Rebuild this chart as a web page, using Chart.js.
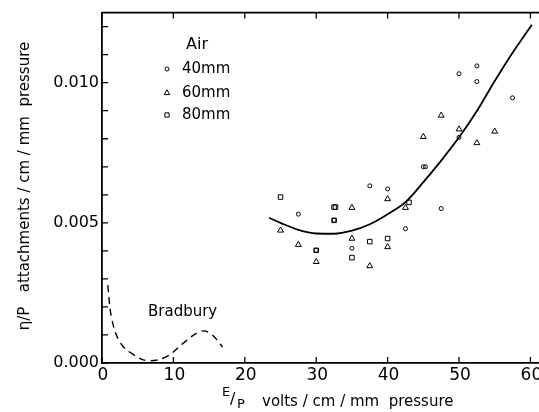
<!DOCTYPE html>
<html>
<head>
<meta charset="utf-8">
<script src="https://cdn.jsdelivr.net/npm/chart.js@4"></script>
<style>
  html, body { margin: 0; padding: 0; background: #fff; }
  #wrap { width: 539px; height: 412px; }
</style>
</head>
<body>
<div id="wrap"><canvas id="attachChart" width="539" height="412"></canvas></div>
<script>
// E/p values and eta/p values
const air40X = [27.5, 37.5, 40, 35, 42.5, 45, 45.3, 47.5, 50, 50, 52.5, 52.5, 57.5, 30, 32.5];
const air40Y = [0.00531, 0.00632, 0.00621, 0.00409, 0.00479, 0.00700, 0.00700, 0.00551, 0.01032, 0.00805, 0.01060, 0.01004, 0.00946, 0.00402, 0.00509];

const air60X = [25, 27.5, 30, 35, 35, 37.5, 40, 40, 42.5, 45, 47.5, 50, 52.5, 55];
const air60Y = [0.00473, 0.00422, 0.00361, 0.00554, 0.00444, 0.00346, 0.00585, 0.00414, 0.00554, 0.00807, 0.00883, 0.00834, 0.00785, 0.00826];

const air80X = [25, 32.5, 32.7, 30, 32.5, 35, 37.5, 40, 43];
const air80Y = [0.00592, 0.00556, 0.00556, 0.00402, 0.00509, 0.00376, 0.00433, 0.00444, 0.00573];

// smooth curve drawn through the data
const fitX = [23.4, 25, 27.5, 30, 32.5, 35, 37.5, 40, 42.5, 45, 47.5, 50, 52.5, 55, 57.5, 60.2];
const fitY = [0.00518, 0.00500, 0.00475, 0.00462, 0.00461, 0.00472, 0.00495, 0.00531, 0.00574, 0.00645, 0.00722, 0.00805, 0.00899, 0.01006, 0.01107, 0.01207];

// Bradbury's curve (dashed)
const bradX = [0.8, 1.4, 2.6, 4.4, 6.5, 9.1, 11.4, 13.7, 15.1, 16.9];
const bradY = [0.00278, 0.00154, 0.00071, 0.00030, 0.00008, 0.00024, 0.00071, 0.00112, 0.00107, 0.00057];

const xTicks = [0, 10, 20, 30, 40, 50, 60];
const yLabels = ['0.000', '0.005', '0.010'];
const legendNames = ['40mm', '60mm', '80mm'];

const FONT = '"DejaVu Sans", sans-serif';

function toPoints(xs, ys) {
  return xs.map((x, i) => ({ x: x, y: ys[i] }));
}

const frameAndText = {
  id: 'frameAndText',
  afterDraw(chart) {
    const ctx = chart.ctx;
    const area = chart.chartArea;
    const xs = chart.scales.x;
    const ys = chart.scales.y;
    ctx.save();
    ctx.strokeStyle = '#000';
    ctx.lineWidth = 1.8;
    // top frame line
    ctx.beginPath();
    ctx.moveTo(area.left, area.top);
    ctx.lineTo(area.right, area.top);
    ctx.stroke();
    // inward ticks
    ctx.lineWidth = 1.3;
    ctx.beginPath();
    xs.ticks.forEach(t => {
      const px = xs.getPixelForValue(t.value);
      ctx.moveTo(px, area.bottom);
      ctx.lineTo(px, area.bottom - 6);
      ctx.moveTo(px, area.top);
      ctx.lineTo(px, area.top + 6);
    });
    ys.ticks.forEach(t => {
      const py = ys.getPixelForValue(t.value);
      ctx.moveTo(area.left, py);
      ctx.lineTo(area.left + 6, py);
    });
    ctx.stroke();

    ctx.fillStyle = '#000';
    ctx.textBaseline = 'middle';

    // x tick labels
    ctx.font = '17px ' + FONT;
    ctx.textAlign = 'center';
    xs.ticks.forEach(t => {
      if (xTicks.includes(t.value)) {
        ctx.fillText(String(t.value), xs.getPixelForValue(t.value) + 1, area.bottom + 13);
      }
    });

    // legend
    ctx.font = '16px ' + FONT;
    ctx.fillText('Air', 197, 45);
    ctx.textAlign = 'left';
    ctx.font = '15px ' + FONT;
    const rows = [69, 93, 115];
    const styles = ['circle', 'triangle', 'rect'];
    const radii = [2, 3.2, 3];
    rows.forEach((ry, i) => {
      ctx.save();
      ctx.lineWidth = 1;
      ctx.fillStyle = 'rgba(0,0,0,0)';
      Chart.helpers.drawPoint(ctx, { pointStyle: styles[i], radius: radii[i], borderWidth: 1 }, 167, ry);
      ctx.restore();
      ctx.fillText(legendNames[i], 182, ry);
    });

    ctx.font = '15px ' + FONT;
    ctx.fillText('Bradbury', 148, 312);

    // x axis title
    ctx.font = '13px ' + FONT;
    ctx.fillText('E', 222, 393);
    ctx.font = '16px ' + FONT;
    ctx.fillText('/', 230, 400);
    ctx.font = '13px ' + FONT;
    ctx.fillText('P', 237, 405);
    ctx.font = '15px ' + FONT;
    ctx.fillText('volts / cm / mm  pressure', 262, 402);

    // y axis title
    ctx.translate(25, 186);
    ctx.rotate(-Math.PI / 2);
    ctx.textAlign = 'center';
    ctx.font = '15px ' + FONT;
    ctx.fillText('\u03B7/P   attachments / cm / mm  pressure', 0, 0);
    ctx.restore();
  }
};

const ctx = document.getElementById('attachChart').getContext('2d');
const attachChart = new Chart(ctx, {
  type: 'scatter',
  data: {
    datasets: [
      {
        label: legendNames[0],
        data: toPoints(air40X, air40Y),
        pointStyle: 'circle',
        pointRadius: 2,
        borderColor: '#000',
        backgroundColor: 'rgba(0,0,0,0)',
        borderWidth: 1
      },
      {
        label: legendNames[1],
        data: toPoints(air60X, air60Y),
        pointStyle: 'triangle',
        pointRadius: 3.4,
        borderColor: '#000',
        backgroundColor: 'rgba(0,0,0,0)',
        borderWidth: 1
      },
      {
        label: legendNames[2],
        data: toPoints(air80X, air80Y),
        pointStyle: 'rect',
        pointRadius: 3.2,
        borderColor: '#000',
        backgroundColor: 'rgba(0,0,0,0)',
        borderWidth: 1
      },
      {
        label: 'fit',
        data: toPoints(fitX, fitY),
        showLine: true,
        pointRadius: 0,
        borderColor: '#000',
        borderWidth: 1.8,
        tension: 0.4,
        cubicInterpolationMode: 'monotone'
      },
      {
        label: 'Bradbury',
        data: toPoints(bradX, bradY),
        showLine: true,
        pointRadius: 0,
        borderColor: '#000',
        borderWidth: 1.4,
        borderDash: [7, 5],
        tension: 0.4
      }
    ]
  },
  options: {
    responsive: false,
    animation: false,
    layout: { autoPadding: false, padding: { top: 10, right: 0, bottom: 0, left: 0 } },
    plugins: {
      legend: { display: false },
      tooltip: { enabled: false }
    },
    scales: {
      x: {
        type: 'linear',
        min: 0,
        max: 61.2,
        afterFit: (scale) => { scale.height = 49; },
        grid: { display: false, drawTicks: false, tickLength: 0 },
        border: { display: true, color: '#000', width: 1.8 },
        ticks: {
          display: false,
          stepSize: 10,
          includeBounds: false
        }
      },
      y: {
        type: 'linear',
        min: 0,
        max: 0.0125,
        afterFit: (scale) => { scale.width = 102; },
        grid: { display: false, drawTicks: false, tickLength: 0 },
        border: { display: true, color: '#000', width: 1.8 },
        ticks: {
          stepSize: 0.001,
          includeBounds: false,
          padding: 3,
          color: '#000',
          font: { family: FONT, size: 16 },
          callback: (v) => {
            const k = Math.round(v * 1000);
            return k % 5 === 0 ? yLabels[k / 5] : '';
          }
        }
      }
    }
  },
  plugins: [frameAndText]
});
</script>
</body>
</html>
